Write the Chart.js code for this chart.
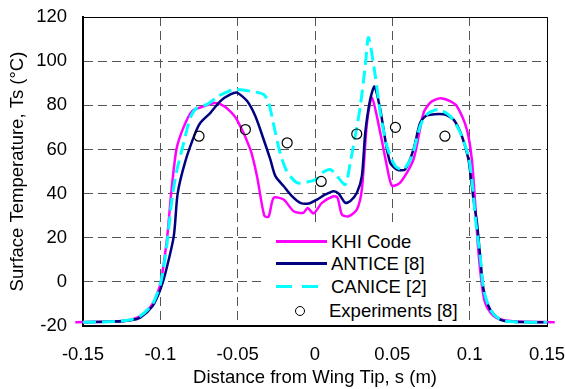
<!DOCTYPE html>
<html>
<head>
<meta charset="utf-8">
<script src="https://cdn.jsdelivr.net/npm/chart.js@4/dist/chart.umd.min.js"></script>
<style>
  body { margin: 0; background: #fff; }
  #wrap { position: relative; width: 565px; height: 389px; }
  #legend {
    position: absolute; left: 261px; top: 227px; width: 205px; height: 95px;
    background: #fff; font-family: "Liberation Sans", Arial, sans-serif; font-size: 18.5px; color: #000;
  }
  .row { position: absolute; left: 0; height: 23px; display: flex; align-items: center; white-space: nowrap; }
  .sample { width: 51px; height: 3px; margin-left: 15px; margin-right: 4px; }
  .circ { width: 10px; height: 10px; border: 1.3px solid #000; border-radius: 50%; margin-left: 34px; margin-right: 24px; box-sizing: border-box; }
</style>
</head>
<body>
<div id="wrap">
  <canvas id="chart" width="565" height="389"></canvas>
  <div id="legend">
    <div class="row" style="top:3px"><div class="sample" style="background:#ff00ff"></div>KHI Code</div>
    <div class="row" style="top:25px"><div class="sample" style="background:#000080"></div>ANTICE [8]</div>
    <div class="row" style="top:48px"><div class="sample" style="background:repeating-linear-gradient(90deg,#00ffff 0 16px,transparent 16px 26px)"></div>CANICE [2]</div>
    <div class="row" style="top:72px"><div class="circ"></div>Experiments [8]</div>
  </div>
</div>
<script>
// KHI Code
let khiX = [-0.155, -0.13, -0.12, -0.113, -0.105, -0.1, -0.0956, -0.093, -0.0896, -0.085, -0.0795, -0.072, -0.065, -0.0612, -0.056, -0.0504, -0.0418, -0.0375, -0.0328, -0.030, -0.0267, -0.0203, -0.0138, -0.0074, -0.0048, -0.0009, 0.0045, 0.012, 0.0146, 0.0174, 0.0217, 0.0271, 0.0303, 0.0336, 0.0368, 0.0422, 0.0465, 0.0497, 0.055, 0.0637, 0.0702, 0.075, 0.081, 0.087, 0.0917, 0.0982, 0.1014, 0.1035, 0.1055, 0.108, 0.11, 0.1135, 0.1176, 0.128, 0.155];
let khiY = [-18.3, -18, -17.3, -15.5, -10, -1, 20, 40, 60, 70, 77.3, 79.5, 81, 80.5, 78, 73.4, 60, 47.9, 30, 29.5, 38.1, 37.3, 32, 31.3, 33.5, 31, 35.8, 38.8, 38.1, 30.5, 29.7, 32.8, 41.9, 72, 83.4, 67.6, 52.4, 43.6, 44.9, 55.5, 76.6, 81.5, 83.2, 82, 79.6, 69, 55.5, 36, 15, -2, -9.5, -14, -16.4, -17.9, -18.3];

// ANTICE [8]
let anticeX = [-0.15, -0.13, -0.12, -0.113, -0.105, -0.1, -0.0967, -0.0913, -0.0888, -0.0838, -0.0773, -0.0741, -0.0676, -0.0612, -0.0547, -0.0504, -0.0439, -0.0386, -0.0332, -0.0289, -0.0256, -0.0203, -0.0149, -0.0095, -0.0041, 0.0013, 0.0067, 0.012, 0.0153, 0.0196, 0.0228, 0.0271, 0.0303, 0.0325, 0.0357, 0.0385, 0.0422, 0.0454, 0.0486, 0.053, 0.0583, 0.0637, 0.068, 0.0723, 0.0831, 0.0895, 0.095, 0.0992, 0.1025, 0.1047, 0.1068, 0.109, 0.1133, 0.1197, 0.128, 0.15];
let anticeY = [-18.3, -18, -17.5, -16.2, -11, -3.5, 4, 20.7, 40, 54.7, 67.6, 72.1, 76.6, 81.9, 84.9, 85.7, 81.9, 75.1, 64.5, 55.5, 47.9, 43.4, 38.8, 35.8, 35.5, 37.3, 39.6, 41.1, 40, 35.8, 36.6, 40.4, 47.9, 67.6, 82.7, 88.5, 78.1, 64.5, 54, 50.9, 50.9, 60, 72.1, 75.4, 75.9, 73.6, 66, 55.5, 37.3, 26.8, 11.6, -3.5, -12.6, -17.1, -18.1, -18.3];

// CANICE [2]
let caniceX = [-0.15, -0.13, -0.12, -0.113, -0.105, -0.1, -0.0978, -0.0956, -0.0924, -0.0892, -0.0849, -0.0806, -0.0762, -0.0698, -0.0623, -0.0569, -0.0526, -0.0418, -0.0332, -0.03, -0.027, -0.0224, -0.0181, -0.0116, -0.0052, 0.0013, 0.0045, 0.0099, 0.0142, 0.0196, 0.0228, 0.026, 0.0293, 0.0325, 0.0346, 0.039, 0.0422, 0.0465, 0.0519, 0.0572, 0.0627, 0.068, 0.0723, 0.0798, 0.0874, 0.0939, 0.0992, 0.1014, 0.104, 0.1068, 0.109, 0.1133, 0.1197, 0.128, 0.15];
let caniceY = [-18.3, -18, -17.3, -15.5, -10, -1, 7, 17.7, 38, 50.9, 63, 74.4, 78.9, 80.4, 84.2, 86, 87.2, 86.4, 84.9, 81.2, 72, 58, 50, 44.9, 45.2, 46.7, 49.4, 50.9, 47.9, 44.1, 54, 66, 79.6, 97.8, 110.7, 93.2, 76.6, 61.5, 52.4, 50.9, 57, 70.6, 75.9, 78.1, 75.1, 67.6, 57, 46.4, 27, 11.6, -3.5, -12.6, -17.1, -18.1, -18.3];

// Experiments [8]
let expX = [-0.075, -0.045, -0.018, 0.004, 0.027, 0.052, 0.084];
let expY = [66, 69, 63, 45.5, 67, 70, 66];

let xTicks = [-0.15, -0.1, -0.05, 0, 0.05, 0.1, 0.15];
let yTicks = [-20, 0, 20, 40, 60, 80, 100, 120];

function pts(xs, ys) {
  return xs.map((x, i) => ({ x: x, y: ys[i] }));
}

Chart.defaults.font.family = '"Liberation Sans", Arial, sans-serif';
Chart.defaults.color = '#000';

// thin frame on top and right of the plot area
const frame = {
  id: 'frame',
  beforeDatasetsDraw(chart) {
    let a = chart.chartArea, c = chart.ctx;
    c.save();
    c.strokeStyle = '#000';
    c.lineWidth = 1;
    c.beginPath();
    c.moveTo(a.left, a.top + 0.5);
    c.lineTo(a.right + 0.5, a.top + 0.5);
    c.lineTo(a.right + 0.5, a.bottom);
    c.stroke();
    c.restore();
  }
};

let lineOpts = { showLine: true, pointRadius: 0, tension: 0.25, fill: false };

new Chart(document.getElementById('chart'), {
  type: 'scatter',
  data: {
    datasets: [
      { label: 'Experiments [8]', data: pts(expX, expY), order: 0, showLine: false,
        pointStyle: 'circle', pointRadius: 5, pointBorderWidth: 1.2,
        borderColor: '#000', backgroundColor: 'rgba(255,255,255,0)' },
      Object.assign({ label: 'CANICE [2]', data: pts(caniceX, caniceY), order: 1,
        borderColor: '#00ffff', borderWidth: 3, borderDash: [13, 6] }, lineOpts),
      Object.assign({ label: 'ANTICE [8]', data: pts(anticeX, anticeY), order: 2,
        borderColor: '#000080', borderWidth: 2.5 }, lineOpts),
      Object.assign({ label: 'KHI Code', data: pts(khiX, khiY), order: 3, clip: false,
        borderColor: '#ff00ff', borderWidth: 2.5 }, lineOpts)
    ]
  },
  options: {
    responsive: false,
    animation: false,
    layout: { padding: { top: 17, right: 18, left: 0, bottom: 0 } },
    plugins: { legend: { display: false }, tooltip: { enabled: false } },
    scales: {
      x: {
        type: 'linear', min: -0.15, max: 0.15,
        afterBuildTicks: s => { s.ticks = xTicks.map(v => ({ value: v })); },
        afterFit: s => { s.height = 63; s.paddingLeft = 0; s.paddingRight = 0; },
        grid: { color: '#555', lineWidth: 1, drawTicks: false, tickLength: 0 },
        border: { display: true, color: '#000', width: 2, dash: [9, 5] },
        ticks: { padding: 18, font: { size: 18.5 }, maxRotation: 0,
          callback: v => String(Math.round(v * 100) / 100) },
        title: { display: true, text: 'Distance from Wing Tip, s (m)', font: { size: 18.5 }, padding: { top: 0, bottom: 0 } }
      },
      y: {
        type: 'linear', min: -20, max: 120,
        afterBuildTicks: s => { s.ticks = yTicks.map(v => ({ value: v })); },
        afterFit: s => { s.width = 83; s.paddingTop = 0; s.paddingBottom = 0; },
        grid: { color: '#555', lineWidth: 1, drawTicks: false, tickLength: 0 },
        border: { display: true, color: '#000', width: 2, dash: [9, 5] },
        ticks: { padding: 16, font: { size: 18.5 } },
        title: { display: true, text: 'Surface Temperature, Ts (°C)', font: { size: 18.5 }, padding: { top: 7, bottom: 0 } }
      }
    }
  },
  plugins: [frame]
});
</script>
</body>
</html>
